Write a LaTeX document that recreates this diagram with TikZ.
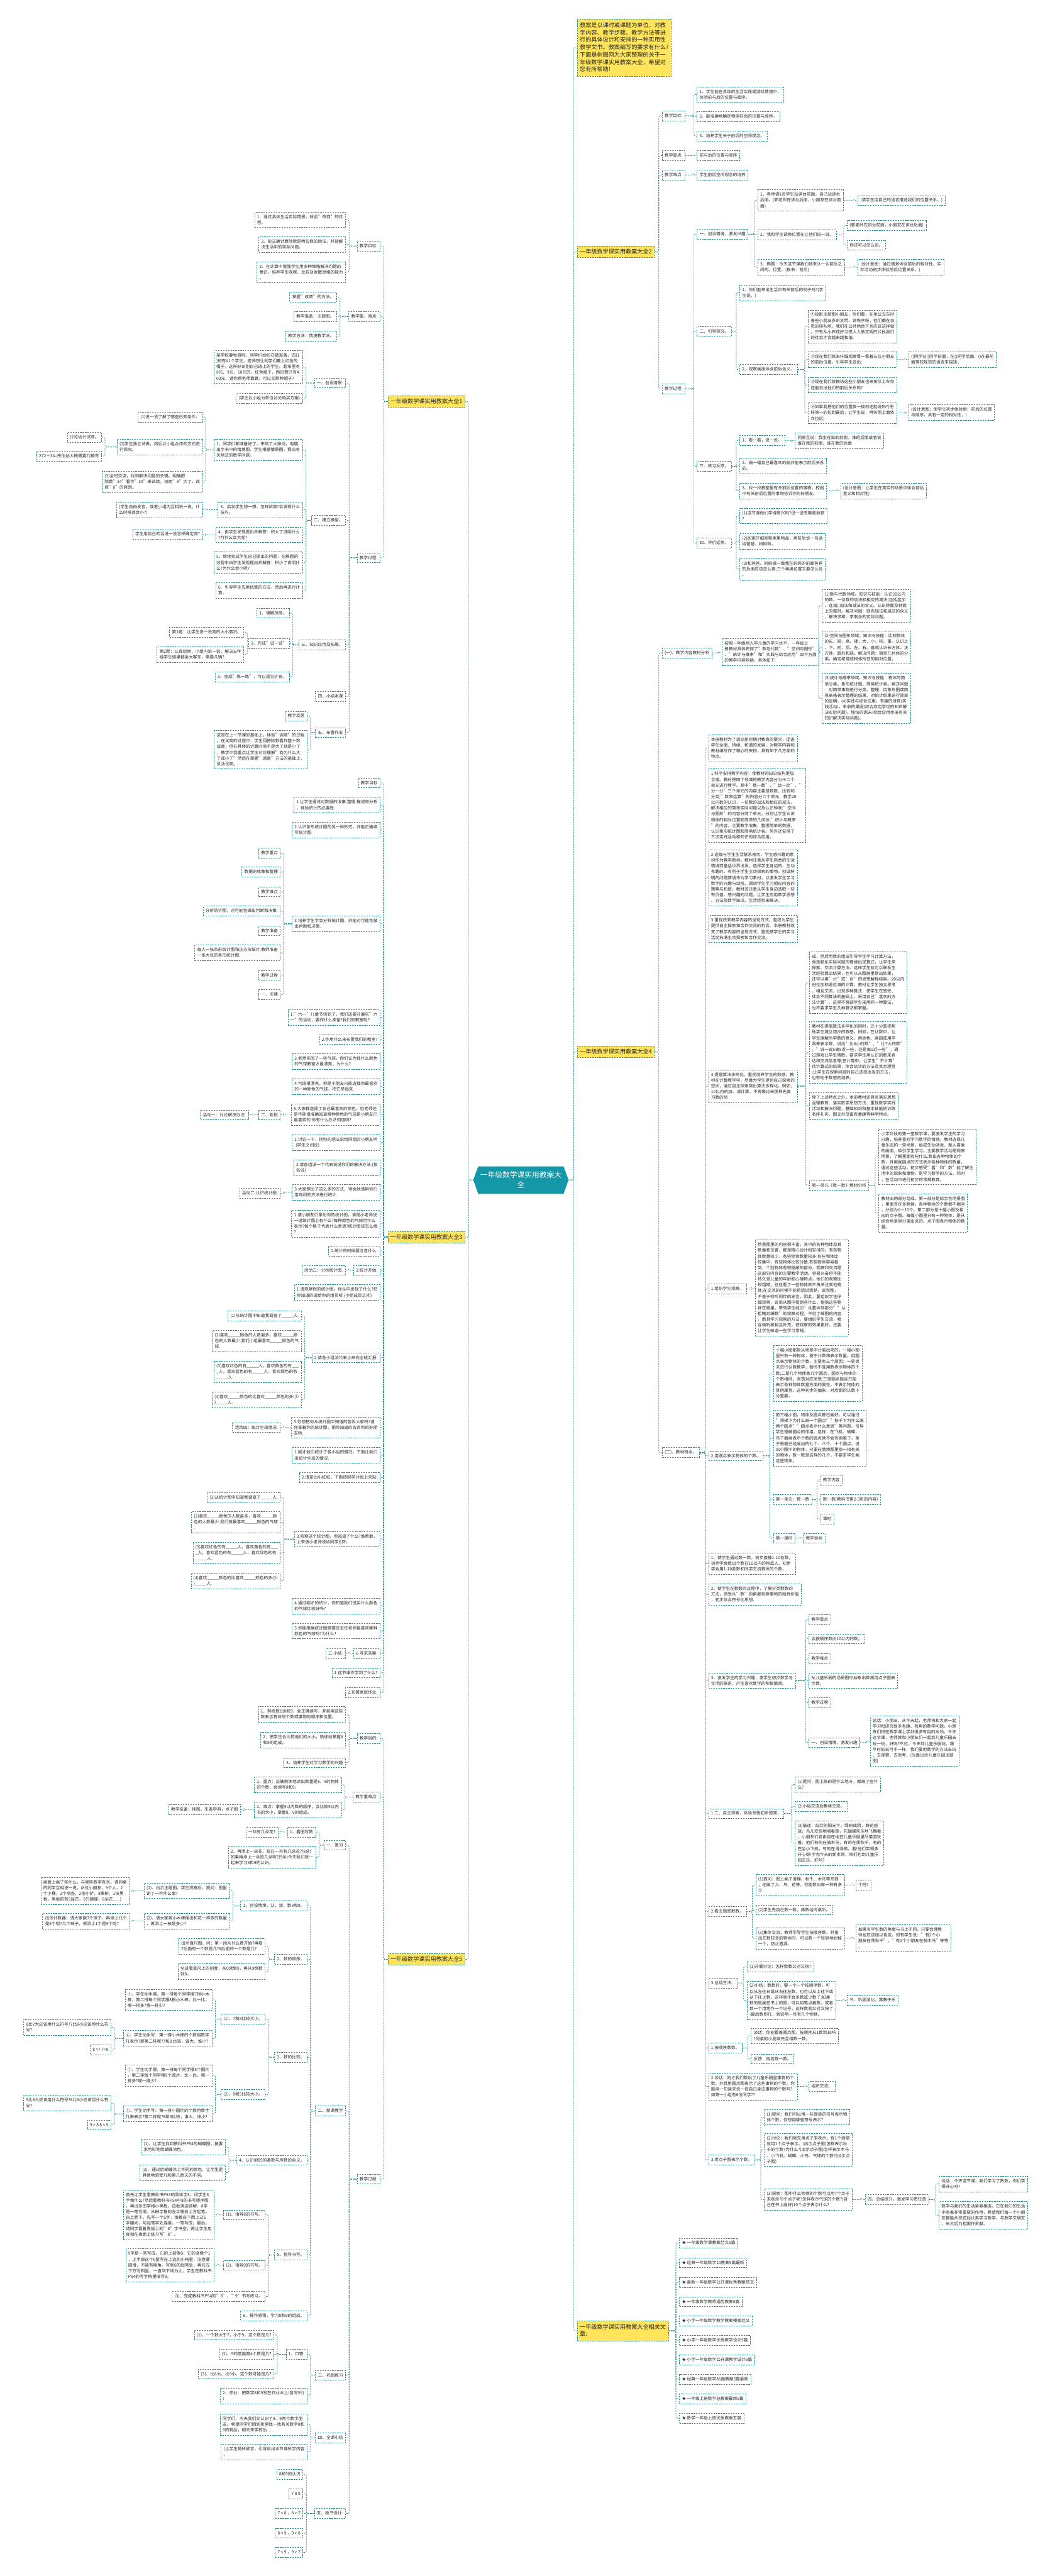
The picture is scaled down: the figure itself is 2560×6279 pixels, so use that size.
\documentclass[tikz,border=0pt]{standalone}
\usepackage{fontspec}
\setmainfont{Noto Sans CJK SC}
\usetikzlibrary{calc}
\definecolor{tealc}{HTML}{2B8C8F}
\definecolor{rootc}{HTML}{1497A6}
\definecolor{yelc}{HTML}{FFE45C}
\newcommand\st{\vrule width0pt height9.5pt depth2.5pt}
\newcommand\yst{\vrule width0pt height12pt depth3.5pt}
\newcommand\blk{\_\_\_\_\_}
\tikzset{
 bx/.style={draw=tealc, line width=1.1pt, dash pattern=on 3.5pt off 2.5pt, fill=white, font=\fontsize{10.2}{14}\selectfont, align=left, inner xsep=6pt, inner ysep=6pt, text=black!85},
 yb/.style={bx, fill=yelc, font=\fontsize{14}{18}\selectfont, inner ysep=6.5pt},
 con/.style={draw=tealc, line width=1.1pt, dash pattern=on 3.5pt off 2.5pt, rounded corners=3pt}
}
\newcommand\NL[4]{\node[bx,anchor=north east] (#1) at (#2,#3) {\st#4\st};}
\newcommand\NR[4]{\node[bx,anchor=north west] (#1) at (#2,#3) {\st#4\st};}
\newcommand\CL[2]{\foreach \cc in {#2} {\draw[con] (#1.west) -| ($(\cc.east)+(8,0)$) -- (\cc.east);}}
\newcommand\CR[2]{\foreach \cc in {#2} {\draw[con] (#1.east) -| ($(\cc.west)+(-8,0)$) -- (\cc.west);}}
\begin{document}
\begin{tikzpicture}[x=1pt,y=-1pt]
\fill[white] (0,0) rectangle (2560,6279);
\useasboundingbox (0,0) rectangle (2560,6279);
% root
\fill[rootc] (1166,2843) -- (1374,2843) -- (1386,2876) -- (1374,2910) -- (1166,2910) -- (1154,2876) -- cycle;
\node[text=white, font=\fontsize{18}{25}\selectfont, align=center, minimum width=228pt, minimum height=67pt, inner sep=0pt] (root) at (1270,2876) {一年级数学课实用教案大\\全};
% ===== 大全1 =====
\node[yb,anchor=north east] (Y1) at (1134,964) {\yst 一年级数学课实用教案大全1\yst};
\NL{a1}{927}{587}{教学目标:}
\NL{a11}{843}{516}{1、通过具体生活实际情景，体验"改商"的过\\程。}
\NL{a12}{843}{576}{2、能正确计算除数是两位数的除法，并能解\\决生活中的实际问题。}
\NL{a13}{843}{637}{3、在计算中增强学生用多种策略解决问题的\\意识，培养学生观察、比较及发散思维的能力\\。}
\NL{a2}{927}{759}{教学重、难点:}
\NL{a21}{821}{712}{掌握"改商"的方法。}
\NL{a22}{821}{759}{教学准备：主题图。}
\NL{a23}{821}{807}{教学方法：情境教学法。}
\NL{a3}{927}{1347}{教学过程:}
\NL{a31}{843}{921}{一、创设情景:}
\NL{a311}{738}{854}{某学校要秋游啦，同学们纷纷在做准备，四(1\\)班有41个学生，老师想让同学们戴上红色的\\帽子，这样好识别自己班上的学生。超市里有\\8元、9元、10元的，红色帽子，而班费只有4\\00元，请你帮老师算算，可以买那种帽子?}
\NL{a312}{738}{958}{(学生以小组为单位讨论购买方案)}
\NL{a32}{843}{1256}{二、建立模型。}
\NL{a321}{738}{1070}{1、同学们都准备好了，来到了大操场，电脑\\出示书中的情境图，学生根据情景图，提出有\\关除法的数学问题。}
\NL{a3211}{494}{1004}{(1)说一说了解了哪些已知条件。}
\NL{a3212}{494}{1070}{(2)学生独立试做，然后以小组合作的方式进\\行探究。}
\NL{a32121}{248}{1053}{讨论估计试商。}
\NL{a32122}{248}{1099}{272÷34=先估估大概需要几辆车}
\NL{a3213}{494}{1148}{(3)全班交流，找到解决问题的关键。明确把\\除数"34"看作"30"来试商，初商"9"大了，改\\商"8"的原因。}
\NL{a322}{738}{1223}{3、启发学生想一想，怎样试商?会发现什么\\技巧。}
\NL{a3221}{494}{1223}{(学生自由发言，或者小组内互相说一说。什\\么时候商会小?)}
\NL{a323}{738}{1284}{4、由学生发现提出并解答：积大了说明什么\\?为什么会大呢?}
\NL{a3231}{494}{1290}{学生用自己的话说一说怎样确定商?}
\NL{a324}{738}{1345}{5、继续完成学生自己提出的问题，在解题的\\过程中由学生发现提出并解答：积小了说明什\\么?为什么会小呢?}
\NL{a325}{738}{1420}{6、引导学生先用估算的方法，然后再进行计\\算。}
\NL{a33}{843}{1559}{三、知识应用及拓展。}
\NL{a331}{706}{1482}{1、理解改商。}
\NL{a332}{706}{1556}{2、完成"试一试"}
\NL{a3321}{595}{1529}{第1题：让学生说一说商的大小情况。}
\NL{a3322}{595}{1576}{第2题：认真观察，小组内说一说，解决五年\\级学生如果都坐大客车，需要几辆?}
\NL{a333}{706}{1637}{3、完成"练一练"，可以适当扩充。}
\NL{a34}{843}{1685}{四、小结本课}
\NL{a35}{843}{1773}{五、布置作业}
\NL{a351}{749}{1733}{教学反思}
\NL{a352}{749}{1780}{这是在上一节课的基础上，体验"调商"的过程\\。在试商的过程中，学生回把除数看作整十数\\试商，但在具体的计算时商不是大了就是小了\\，教学中我重点让学生讨论理解"商为什么大\\了或小了"然后在掌握"调商"方法的基础上，\\灵活试商。}
\CL{Y1}{a1,a2,a3}
\CL{a1}{a11,a12,a13}
\CL{a2}{a21,a22,a23}
\CL{a3}{a31,a32,a33,a34,a35}
\CL{a31}{a311,a312}
\CL{a32}{a321,a322,a323,a324,a325}
\CL{a321}{a3211,a3212,a3213}
\CL{a3212}{a32121,a32122}
\CL{a322}{a3221}
\CL{a323}{a3231}
\CL{a33}{a331,a332,a333}
\CL{a332}{a3321,a3322}
\CL{a35}{a351,a352}
% ===== 大全3 =====
\node[yb,anchor=north east] (Y3) at (1134,3001) {\yst 一年级数学课实用教案大全3\yst};
\NL{c1}{927}{1896}{教学目标}
\NL{c2}{927}{1943}{1.让学生通过对数据的收集.整理.描述和分析\\，体验统计的必要性.}
\NL{c3}{927}{2004}{2.认识条形统计图的另一种形式，并能正确填\\写统计图.}
\NL{c4}{927}{2232}{3.培养学生学会分析统计图，并能对可能性做\\出判断和决策.}
\NL{c41}{684}{2067}{教学重点}
\NL{c42}{684}{2113}{数据的收集和整理}
\NL{c43}{684}{2161}{教学难点}
\NL{c44}{684}{2208}{分析统计图，对可能性做出判断和决策.}
\NL{c45}{684}{2256}{教学准备}
\NL{c46}{684}{2303}{每人一张条形统计图和正方形纸片.教师准备\\一张大张的条形统计图.}
\NL{c47}{684}{2365}{教学过程}
\NL{c48}{684}{2412}{一、引课}
\NL{c5}{927}{2460}{1."六一"儿童节快到了，我们班要开展庆"六\\一"的活动，要作什么准备?我们的教室呢?}
\NL{c6}{927}{2521}{2.你用什么来布置我们的教室?}
\NL{c7}{927}{2568}{3.老师买回了一些气球，你们认为挂什么颜色\\的气球教室才最漂亮，为什么?}
\NL{c8}{927}{2629}{4.气球很漂亮，但是小朋友只能选择你最喜欢\\的一种颜色的气球，把它举起来.}
\NL{c9}{927}{2690}{5.大家都选择了自己最喜欢的颜色，但老师还\\是不能很准确知道哪种颜色的气球是小朋友们\\最喜欢的.你有什么办法知道吗?}
\NL{c91}{684}{2705}{二、新授}
\NL{c911}{606}{2705}{活动一：讨论解决办法.}
\NL{c10}{927}{2765}{1.讨论一下，把你的想法说给同组的小朋友听\\.(学生之间说)}
\NL{c11}{927}{2827}{2.请各组派一个代表说说你们的解决办法.(指\\名说)}
\NL{c12}{927}{2887}{3.大家想出了这么多的方法，待会就请用你们\\用询问的方法进行统计.}
\NL{c121}{684}{2896}{活动二.认识统计图.}
\NL{c13}{927}{2949}{1.请小朋友们拿出你的统计图，谁是小老师说\\一说统计图上有什么?每种颜色的气球用什么\\表示?每个格子代表什么意思?统计图该怎么填\\?}
\NL{c14}{927}{3037}{2.统计的时候要注意什么.}
\NL{c15}{927}{3084}{3.统计开始.}
\NL{c151}{843}{3084}{活动三：分析统计图.}
\NL{c16}{927}{3131}{1.请观察你的统计图，你从中发现了什么?把\\你知道的说给你的组员听.(小组成员之间)}
\NL{c17}{927}{3297}{2.请各小组派代表上来向全班汇报.}
\NL{c171}{735}{3195}{(1)从统计图中知道我调查了\blk 人.}
\NL{c172}{735}{3242}{(2)喜欢\blk 颜色的人数最多，喜欢\blk 颜\\色的人数最少.我们小组最喜欢\blk 颜色的气\\球.}
\NL{c173}{735}{3317}{(3)喜欢红色的有\blk 人，喜欢黄色的有\_\_\_\\\_人，喜欢蓝色的有\blk 人，喜欢绿色的有\\\blk 人.}
\NL{c174}{735}{3392}{(4)喜欢\blk 颜色的比喜欢\blk 颜色的多(少\\)\blk 人.}
\NL{c18}{927}{3453}{3.你想把你从统计图中知道的告诉大家吗?请\\你拿着你的统计图，把你知道的告诉你的好朋\\友听.}
\NL{c181}{684}{3467}{活动四：统计全班情况.}
\NL{c19}{927}{3528}{1.刚才我们统计了各小组的情况，下面让我们\\来统计全班的情况.}
\NL{c20}{927}{3589}{2.请拿出小红纸，下面请同学分组上来贴.}
\NL{c21}{927}{3732}{3.观察这个统计图，你知道了什么?谁勇敢，\\上来做小老师说给同学们听.}
\NL{c211}{684}{3637}{(1)从统计图中知道我调查了\blk 人.}
\NL{c212}{684}{3684}{(2)喜欢\blk 颜色的人数最多，喜欢\blk 颜\\色的人数最少.我们班最喜欢\blk 颜色的气球\\.}
\NL{c213}{684}{3759}{(3)喜欢红色的有\blk 人，喜欢黄色的有\_\_\_\\\_人，喜欢蓝色的有\blk 人，喜欢绿色的有\\\blk 人.}
\NL{c214}{684}{3834}{(4)喜欢\blk 颜色的比喜欢\blk 颜色的多(少\\)\blk 人.}
\NL{c22}{927}{3895}{4.通过刚才的统计，你知道我们班买什么颜色\\的气球比较好吗?}
\NL{c23}{927}{3956}{5.你能根据统计图猜猜班主任老师最喜欢哪种\\颜色的气球吗?为什么?}
\NL{c24}{927}{4018}{6.寻求答案.}
\NL{c241}{843}{4018}{三.小结.}
\NL{c25}{927}{4065}{1.这节课你学到了什么?}
\NL{c26}{927}{4113}{2.布置家庭作业.}
\CL{Y3}{c1,c2,c3,c4,c5,c6,c7,c8,c9,c10,c11,c12,c13,c14,c15,c16,c17,c18,c19,c20,c21,c22,c23,c24,c25,c26}
\CL{c4}{c41,c42,c43,c44,c45,c46,c47,c48}
\CL{c9}{c91}
\CL{c91}{c911}
\CL{c12}{c121}
\CL{c15}{c151}
\CL{c17}{c171,c172,c173,c174}
\CL{c18}{c181}
\CL{c21}{c211,c212,c213,c214}
\CL{c24}{c241}
% ===== 大全5 =====
\node[yb,anchor=north east] (Y5) at (1134,4761) {\yst 一年级数学课实用教案大全5\yst};
\NL{e1}{927}{4225}{教学目的:}
\NL{e11}{843}{4159}{1、熟练数出8和9，会正确读写，并能用这些\\数表示物体的个数或事物的顺序和位置。}
\NL{e12}{843}{4222}{2、使学生会比较他们的大小，熟练地掌握8\\和9的组成。}
\NL{e13}{843}{4284}{3、培养学生对学习数学的兴趣}
\NL{e2}{927}{4368}{教学重难点:}
\NL{e21}{833}{4331}{1、重点：正确熟练地读出数量是8、9的物体\\的个数，会读写8和9。}
\NL{e22}{833}{4392}{2、难点：掌握9以内数的顺序，会比较9以内\\书的大小，掌握8、9的组成。}
\NL{e221}{587}{4398}{教学准备：挂图、生备学具，点子图}
\NL{e3}{927}{5299}{教学过程:}
\NL{e31}{843}{4485}{一、复习}
\NL{e311}{770}{4453}{1、看图写数}
\NL{e3111}{678}{4453}{一共有几朵花?}
\NL{e312}{770}{4501}{2、再添上一朵花，现在一共有几朵花?(8朵)\\如果再添上一朵是几朵呢?(9朵)今天我们就一\\起来学习8和9的认识。}
\NL{e32}{843}{5133}{二、新课教学}
\NL{e321}{749}{4633}{1、创设情境，认、读、数8和9。}
\NL{e3211}{560}{4589}{(1)、出示主题图，学生观察后，提问：图里\\讲了一件什么事?}
\NL{e32111}{316}{4576}{画面上画了些什么，与哪些数字有关，请同桌\\的同学互相说一说。(8位小朋友，9个人，2\\个小桶，2个喷壶，2把小铲，8棵树，1块黑\\板，黑板前有9盆花，9只蝴蝶，8朵花......)}
\NL{e3212}{560}{4663}{(2)、请大家用小木棒摆出和花一样多的数量\\，再添上一枝是多少?}
\NL{e32121}{316}{4663}{出示计数器，请大家拨7个珠子，再添上几个\\是8个呢?几个珠子，再添上1个是9个呢?}
\NL{e322}{749}{4763}{2、数的顺序。}
\NL{e3221}{647}{4725}{出示直尺图。问：第一段从什么数开始?再看\\7后面的一个数是几?8后面的一个数是几?}
\NL{e3222}{647}{4786}{全班看直尺上的刻度，从0读到9，再从9倒数\\到0。}
\NL{e323}{749}{5002}{3、数的比较。}
\NL{e3231}{647}{4909}{(1)、7和8比较大小。}
\NL{e32311}{517}{4848}{①、学生动手摆，第一排每个同学摆7根小木\\棒，第二排每个同学摆8根小木棒，比一比，\\哪一排多?哪一排少?}
\NL{e32312}{517}{4949}{②、学生动手写：第一排小木棒的个数用数字\\几表示?那第二排呢?7和8 比较，谁大，谁小?}
\NL{e323121}{271}{4922}{8比7大应该用什么符号?7比8小应该用什么符\\号?}
\NL{e323122}{271}{4984}{8 >7 7<8}
\NL{e3232}{647}{5093}{(2)、8和9比较大小。}
\NL{e32321}{517}{5032}{①、学生动手摆，第一排每个同学摆8个圆片\\，第二排每个同学摆9个圆片，比一比，哪一\\排多?哪一排少?}
\NL{e32322}{517}{5133}{②、学生动手写：第一排小圆片的个数用数字\\几来表示?第二排呢?8和9比较，谁大，谁小?}
\NL{e323221}{271}{5107}{9比8大应该用什么符号?8比9小应该用什么符\\号?}
\NL{e323222}{271}{5167}{9 > 8 8 < 9}
\NL{e324}{749}{5253}{4、认识8和9的基数与序数的含义。}
\NL{e3241}{550}{5214}{(1)、让学生找到教科书P54的蝴蝶图，按要\\求用彩笔给蝴蝶涂色。}
\NL{e3242}{550}{5276}{(2)、通过给蝴蝶涂上不同的颜色，让学生更\\具体地感受几和第几意义的不同。}
\NL{e325}{749}{5484}{5、指导书写。}
\NL{e3251}{647}{5386}{(1)、指导8的书写。}
\NL{e32511}{523}{5337}{首先让学生看教科书P53的黑体字8，问学生8\\字像什么?然后看教科书P54中8的书写顺序图\\，再出示田字格小黑板，边板演边讲解：8字\\是一笔写成。从田字格的左半格右上方起笔，\\自上而下，先写一个S字，接着自下而上过S\\字腰间，与起笔字处连接，一笔写成。最后，\\请同学看着黑板上的"8"字书空，再让学生用\\食指在桌面上练习写"8"。}
\NL{e3252}{647}{5509}{(2)、指导9的书写。}
\NL{e32521}{523}{5481}{9字是一笔写成，它的上部像0，它的竖像个1\\，上半部这个0要写在上边的小格里，注意要\\圆滑，不能有棱角。写到0的起笔处，再往左\\下方写斜竖，一直到下线为止，学生在教科书\\P54的写字格里描写9。}
\NL{e3253}{647}{5585}{(3)、完成教科书P54的"8"、"9"书写练习。}
\NL{e326}{749}{5632}{6、操作感悟，学习8和9的组成。}
\NL{e33}{843}{5777}{三、巩固练习}
\NL{e331}{749}{5726}{1、口答:}
\NL{e3311}{668}{5679}{(1)、一个数大于7，小于9，这个数是几?}
\NL{e3312}{668}{5726}{(2)、9的前面第4个数是几?}
\NL{e3313}{668}{5774}{(3)、比6大，比9小，这个数可能是几?}
\NL{e332}{749}{5821}{2、作业：把数字8和9写在作业本上(各写5行\\)}
\NL{e34}{843}{5930}{四、全课小结}
\NL{e341}{749}{5883}{同学们，今天我们又认识了8、9两个数字朋\\友。希望同学们回到家里找一找有关数字8和\\9的物品，明天来学校后......}
\NL{e342}{749}{5957}{(让学生畅所欲言，引导说出本节课所学内容\\。}
\NL{e35}{843}{6114}{五、板书设计:}
\NL{e351}{739}{6019}{8和9的认识}
\NL{e352}{739}{6066}{7 8 9}
\NL{e353}{739}{6114}{7 < 8 ，8 > 7}
\NL{e354}{739}{6162}{8 < 9 ，9 > 8}
\NL{e355}{739}{6209}{7 < 9 ，9 > 7}
\CL{Y5}{e1,e2,e3}
\CL{e1}{e11,e12,e13}
\CL{e2}{e21,e22}
\CL{e22}{e221}
\CL{e3}{e31,e32,e33,e34,e35}
\CL{e31}{e311,e312}
\CL{e311}{e3111}
\CL{e32}{e321,e322,e323,e324,e325,e326}
\CL{e321}{e3211,e3212}
\CL{e3211}{e32111}
\CL{e3212}{e32121}
\CL{e322}{e3221,e3222}
\CL{e323}{e3231,e3232}
\CL{e3231}{e32311,e32312}
\CL{e32312}{e323121,e323122}
\CL{e3232}{e32321,e32322}
\CL{e32322}{e323221,e323222}
\CL{e324}{e3241,e3242}
\CL{e325}{e3251,e3252,e3253}
\CL{e3251}{e32511}
\CL{e3252}{e32521}
\CL{e33}{e331,e332}
\CL{e331}{e3311,e3312,e3313}
\CL{e34}{e341,e342}
\CL{e35}{e351,e352,e353,e354,e355}
% ===== note =====
\node[yb,anchor=north west,inner ysep=8pt] (note) at (1407,46) {\yst 教案是以课时或课题为单位，对教\\学内容、教学步骤、教学方法等进\\行的具体设计和安排的一种实用性\\教学文书。教案编写的要求有什么?\\下面是树图网为大家整理的关于一\\年级数学课实用教案大全，希望对\\您有所帮助!\yst};
% ===== 大全2 =====
\node[yb,anchor=north west] (Y2) at (1407,599) {\yst 一年级数学课实用教案大全2\yst};
\NR{b1}{1614}{270}{教学目标:}
\NR{b11}{1699}{211}{1、学生能在具体的生活实践或游戏情境中，\\体验前与后的位置与顺序。}
\NR{b12}{1699}{272}{2、能准确地确定物体前后的位置与顺序。}
\NR{b13}{1699}{319}{3、培养学生关于前后的空间观念。}
\NR{b2}{1614}{367}{教学重点:}
\NR{b21}{1699}{367}{前与后的位置与顺序}
\NR{b3}{1614}{414}{教学难点:}
\NR{b31}{1699}{414}{学生前后空间观念的培养}
\NR{b4}{1614}{935}{教学过程:}
\NR{b41}{1699}{558}{一、创设情境，激发兴趣}
\NR{b411}{1847}{462}{1、老师请1名学生站讲台前面，自己站讲台\\后面。(郭老师在讲台后面，小朋友在讲台前\\面)}
\NR{b4111}{2091}{476}{(请学生用自己的语言描述我们的位置关系。)}
\NR{b412}{1847}{560}{2、我和学生调换位置在让他们说一说。}
\NR{b4121}{2065}{537}{(郭老师在讲台前面，小朋友在讲台后面)}
\NR{b4122}{2065}{585}{你还可以怎么说。}
\NR{b413}{1847}{632}{3、揭题：今天这节课我们就来认一认前后之\\间的。位置。(板书：前后)}
\NR{b4131}{2091}{632}{(设计意图：通过情景体验前后的相对性，实\\际活动初步体验前后位置关系。)}
\NR{b42}{1699}{795}{二、引导探究。}
\NR{b421}{1803}{694}{1、你们能举出生活中有关前后的例子吗?(学\\生说。)}
\NR{b422}{1803}{888}{2、观察画面体会前后含义。}
\NR{b4221}{1970}{755}{①投影主题图小朋友，你们看，在坐公交车时\\着些小朋友多讲文明、讲秩序呀，他们都在自\\觉的排队呢，我们在公共场合下也应该这样做\\，只有从小养成好习惯人人做文明的公民我们\\的社会才会越来越和谐。}
\NR{b4222}{1970}{857}{②现在我们就来仔细观察看一看着五位小朋友\\的前后位置，引导学生说出：}
\NR{b42221}{2215}{857}{()同学在()同学前面，在()同学后面，()在最前\\面等较规范的语言来描述。}
\NR{b4223}{1970}{919}{③现在我们就模仿这些小朋友也来排队上车你\\还能说出他们的前后关系吗?}
\NR{b4224}{1970}{980}{④如果我把他们的位置换一换你还能说吗?(把\\排第一的拉到最后，让学生说，再仿照上面依\\次拉后)}
\NR{b42241}{2215}{986}{(设计意图：使学生初步体验到：前后的位置\\与顺序，具有一定的相对性。)}
\NR{b43}{1699}{1124}{三、练习反馈。}
\NR{b431}{1803}{1061}{1、看一看，说一说。}
\NR{b4311}{1938}{1055}{同桌互说：我坐在谁的前面，谁的后面或者说\\谁在我的前面，谁在我的后面}
\NR{b432}{1803}{1116}{2、画一幅自己最喜欢的画并能表示前后关系\\的。}
\NR{b433}{1803}{1177}{3、找一找教室里有关前后位置的事物，校园\\中有关前后位置的事物告诉你的好朋友。}
\NR{b4331}{2049}{1177}{(设计意图：让学生在真实的场景中体会前后\\意义和相对性)}
\NR{b44}{1699}{1311}{四、评价延伸。}
\NR{b441}{1803}{1238}{(1)这节课你们学得高兴吗?说一说有哪些收获\\?}
\NR{b442}{1803}{1300}{(2)回家仔细观察家里物品，用前后说一句话\\给爸爸、妈妈听。}
\NR{b443}{1803}{1361}{(3)和爸爸、妈妈做一做我在妈妈的前面爸爸\\的后面应该怎么排;三个再换位置又要怎么说\\。}
\CR{Y2}{b1,b2,b3,b4}
\CR{b1}{b11,b12,b13}
\CR{b2}{b21}
\CR{b3}{b31}
\CR{b4}{b41,b42,b43,b44}
\CR{b41}{b411,b412,b413}
\CR{b411}{b4111}
\CR{b412}{b4121,b4122}
\CR{b413}{b4131}
\CR{b42}{b421,b422}
\CR{b422}{b4221,b4222,b4223,b4224}
\CR{b4222}{b42221}
\CR{b4224}{b42241}
\CR{b43}{b431,b432,b433}
\CR{b431}{b4311}
\CR{b433}{b4331}
\CR{b44}{b441,b442,b443}
% ===== 大全4 =====
\node[yb,anchor=north west] (Y4) at (1407,2549) {\yst 一年级数学课实用教案大全4\yst};
\NR{d1}{1614}{1579}{(一)、教学内容教材分析}
\NR{d11}{1760}{1556}{按照一年级刚入学儿童的学习水平，一年级上\\册教材具体安排了"数与代数"、"空间与图形"\\、"统计与概率"和"实践与综合应用"四个方面\\的教学内容包括，具体如下:}
\NR{d111}{2004}{1436}{(1)数与代数领域。知识与技能：认识20以内\\的数。一位数的加法和相应的减法(包括连加\\、连减);加法和减法的含义。认识钟面及钟面\\上的整时。解决问题：联系加法和减法的含义\\，解决求和、求剩余的实际问题。}
\NR{d112}{2004}{1538}{(2)空间与图形领域。知识与技能：比较物体\\的长、短，高、矮，大、小，轻、重。认识上\\、下、前、后、左、右。直观认识长方体、正\\方体、圆柱和球。解决问题：简单几何体的分\\类。确定和描述物体所在的相对位置。}
\NR{d113}{2004}{1641}{(3)统计与概率领域。知识与技能：物体的简\\单分类。象形统计图，简易统计表。解决问题\\：对简单事物进行分类、整理，用象形图或简\\易表格表示整理的结果。对统计结果进行简单\\的说明。(4)实践与综合应用。有趣的拼搭(实\\践活动)。丰收的果园(综合应用学过的知识解\\决实际问题)。愉快的周末(综合应用本册有关\\知识解决实际问题)。}
\NR{d2}{1614}{3528}{(二)、教材特点。}
\NR{d21}{1727}{1790}{本册教材为了适应新时期对教育的要求，促进\\学生全面、持续、和谐的发展，对教学内容和\\教材编写作了精心的安排，具有如下几方面的\\特点。}
\NR{d22}{1727}{1874}{1.科学安排教学内容，使教材的知识结构更加\\合理。教材把四个领域的教学内容分为十二个\\单元进行教学。其中"数一数"、"比一比"、"\\分一分"三个单元的内容主要是数数、比较和\\分类;"数和运算"的内容分六个单元，教学20\\以内数的认识，一位数的加法和相应的减法，\\解决相应的简单实际问题以及认识钟表;"空间\\与图形"的内容分两个单元，分别让学生认识\\物体的相对位置和简单的几何体;"统计与概率\\"的内容，主要教学收集、整理简单的数据，\\认识象形统计图和简易统计表。另外还安排了\\三次实践活动和知识的综合应用。}
\NR{d23}{1727}{2071}{2.选取与学生生活联系密切、学生感兴趣的素\\材作为教学题材。教材注意从学生熟悉的生活\\情境或童话世界出发，选择学生身边的、生动\\有趣的、有利于学生主动探索的事物，创设鲜\\明的问题情境作为学习素材，以激发学生学习\\数学的兴趣与动机，调动学生学习相应内容的\\策略与机智。教材还注意从学生身边选取一些\\有价值、感兴趣的问题，让学生应用数学思想\\、方法及数学知识、生活经验来解决。}
\NR{d24}{1727}{2231}{3.重视改变教学内容的呈现方式，重视为学生\\提供自主探索和合作交流的机会。本册教材改\\变了教学内容的呈现方式，重视使学生的学习\\活动充满主动探索和合作交流。}
\NR{d25}{1727}{2607}{4.提倡算法多样化，重视培养学生的数感。教\\材在计算教学中，尽量为学生提供自己探索的\\空间，通过自主探索突出算法多样化。例如，\\10以内的加、减计算，不再像过去那样先复\\习数的组}
\NR{d251}{1973}{2319}{成，然后用数的组成引导学生学习计算方法，\\而是联系实际问题的情境出现算式，让学生来\\探索、交流计算方法。这样学生就可以联系生\\活经验算出结果，也可以从图画里数出结果，\\还可以用"分"或"合"的思想解释结果。20以内\\进位加和退位减的计算，教材让学生独立思考\\、相互交流，出现多种算法，使学生在感受、\\体会不同算法的基础上，采用自己"喜欢的方\\法计算"。这里不强调学生采用同一种算法，\\也不要求学生几种算法都掌握。}
\NR{d252}{1973}{2490}{教材在提倡算法多样化的同时，还十分重视帮\\助学生建立初步的数感。例如，在认数中，让\\学生理解所学数的意义，用涂色、画圆或用学\\具来表示数，说出"比8小的数"、"比7大的数"\\，"说一说5离8近一些，还是离1近一些"，通\\过游戏让学生猜数，要求学生用认识的数来表\\达和交流信息等;在计算中，让学生"不计算"\\估计算式的结果，体会估计的方法及其合理性\\;让学生在探索问题时自己选择适当的方法，\\也有助于数感的培养。}
\NR{d253}{1973}{2662}{除了上述特点之外，本册教材还具有落实思想\\品德教育、落实数学思想方法、重视数学实践\\活动和解决问题、基础知识和基本技能的训练\\有序扎实、图文并茂富有童趣等鲜明特点。}
\NR{d254}{1973}{2877}{第一单元《数一数》教材分析}
\NR{d2541}{2142}{2751}{小学阶段的第一堂数学课，要激发学生的学习\\兴趣，培养喜欢学习数学的情感。教材选择儿\\童乐园的一些场景，组成生动活泼、惹人喜爱\\的画面，吸引学生学习。主要教学活动是观察\\场景，了解里面有些什么;数出各种物体的个\\数，并用画圆点的方式表示各种物体的数量。\\通过这些活动，初步感受"看"和"数"能了解生\\活中的现象和事物，是学习数学的方法。同时\\，在活动中进行初步的常规教育。}
\NR{d2542}{2142}{2909}{教材由两部分组成。第一部分是综合性场景图\\，里面有许多物体，各种物体的个数都不相同\\，分别为1～10个。第二部分是十幅小图及相\\应的点子图。每幅小图里只有一种物体，是从\\综合场景里分离出来的。点子图表示物体的数\\量。}
\NR{d26}{1727}{3129}{1.组织学生观察。}
\NR{d261}{1841}{3022}{场景图里的内容很丰富，其中的各种物体及其\\数量和位置，都是精心设计和安排的。有些物\\体数量较少，有些物体数量较多;有些物体比\\较集中，有些物体比较分散;有些物体容易看\\到，个别物体有较隐蔽的部分。观察和交流是\\这部分内容的主要教学活动。容易兴奋但不能\\持久是儿童的年龄和心理特点，他们的观察比\\较粗糙，往往看了一些物体就不再关注其他物\\体;在交流的时候不能把话说清楚，说完整，\\不善于倾听同伴的发言。因此，要组织学生仔\\细观察，说说从图中看到些什么，指指这些物\\体在哪里。带领学生经历"从整体到部分""从\\粗略到细数"的观察过程，不但了解图的内容\\，而且学习观察的方法。要组织学生交流，相\\互倾听和相互补充，使观察的效果更好，还要\\让学生知道一些学习常规。}
\NR{d27}{1727}{3536}{2.用圆点表示物体的个数。}
\NR{d271}{1885}{3279}{十幅小图都是从场景中分离出来的，一幅小图\\里只有一种物体，便于计数和表示数量。用圆\\点表示物体的个数，主要有三个原因：一是尚\\未进行认数教学，暂时不宜用数表示物体的个\\数;二是几个物体画几个圆点，圆点与物体的\\个数相同，渗透对应思想;三是圆点能且只能\\表示各种物体数量方面的属性，不表示物体的\\其他属性。这种初步的抽象，对后面的认数十\\分重要。}
\NR{d272}{1885}{3437}{前三幅小图，物体及圆点都已画好。可以通过\\"滑梯下为什么画一个圆点""秋千下为什么画\\两个圆点""圆点表示什么意思"等问题，引导\\学生理解圆点的作用。这样，在飞机、蝴蝶、\\鸟下面画表示个数的圆点就不会有困难了。至\\于根据已经画出的七个、八个、十个圆点，说\\出小图中的物体，只要在情境图里指一指有关\\的物体，数一数是这样的几个，不要求学生画\\这些物体。}
\NR{d273}{1885}{3643}{第一单元：数一数}
\NR{d2731}{2000}{3595}{教学内容}
\NR{d2732}{2000}{3643}{数一数(教科书第2-3页的内容)}
\NR{d2733}{2000}{3690}{课时}
\NR{d274}{1885}{3737}{第一课时}
\NR{d2741}{1958}{3737}{教学目标}
\NR{d28}{1727}{3785}{1、使学生通过数一数，初步接触1-10各数，\\初步学会数出个数在10以内的物或人，初步\\学会用1-10各数和同学交流物体的个数。}
\NR{d29}{1727}{3860}{2、使学生在数数的过程中，了解分类数数的\\方法，感受从"数"的角度观察事物的独特价值\\，初步体会符号化思想。}
\NR{d30}{1727}{4077}{3、激发学生的学习兴趣，使学生初步数学与\\生活的联系，产生喜欢数学的积极情感。}
\NR{d301}{1972}{3935}{教学重点}
\NR{d302}{1972}{3982}{会按顺序数出10以内的数。}
\NR{d303}{1972}{4030}{教学难点}
\NR{d304}{1972}{4077}{从儿童乐园的场景图中抽象出数再用点子图表\\示数。}
\NR{d305}{1972}{4138}{教学过程}
\NR{d306}{1972}{4235}{一、创设情境，激发兴趣}
\NR{d3061}{2121}{4182}{谈话：小朋友，从今天起，老师将和大家一起\\学习和研究很多有趣、有用的数学问题，小朋\\友们将在数学课上学到很多有用的本领。今天\\这节课，老师就和小朋友们一起到儿童乐园去\\玩一玩，好吗?不过，今天到儿童乐园玩，跟\\平时的玩可不一样，我们要用数学的方法去玩\\、去观察、去思考。(光盘出示儿童乐园主题\\图)}
\NR{d31}{1727}{4408}{1.二、自主探索，体验领悟初步感知。}
\NR{d311}{1938}{4330}{(1)提问：图上画的是什么地方，都画了些什\\么?}
\NR{d312}{1938}{4391}{(2)小组交流后集体交流。}
\NR{d313}{1938}{4438}{(3)描述：灿烂的阳光下，绿树成阴，鲜花怒\\放，鸟儿欢快地唱着歌，花蝴蝶欢乐地飞舞着\\，小朋友们自由自在地在儿童乐园里尽情游玩\\着，他们有的在骑木马，有的在荡秋千，有的\\在坐小飞机，有的在滑滑梯。看!他们笑得多\\开心呀!学完今天的新本领，咱们也到儿童乐\\园去玩，好吗?}
\NR{d32}{1727}{4647}{2.看主题图数数。}
\NR{d321}{1842}{4568}{(1)提问：图上画了滑梯、秋千、木马等东西\\，还画了人、鸟、花等，你能数出每一种有多\\少}
\NR{d3211}{2086}{4582}{个吗?}
\NR{d322}{1842}{4643}{(2)学生先自己数一数，再数给同桌听。}
\NR{d323}{1842}{4698}{(3)集体交流，教师引导学生按顺序数，并指\\出在数较多的物体时，可以数一个轻轻地划掉\\一个，防止遗漏。}
\NR{d3231}{2086}{4691}{如果有学生数的角度与书上不同，只要合理教\\师也应该加以肯定。如有学生说："有2个小\\朋友在荡秋千"，"有2个小朋友在骑木马"等等\\。}
\NR{d33}{1727}{4821}{3.总结方法。}
\NR{d331}{1821}{4781}{(1)开展讨论：怎样数数又对又快?}
\NR{d332}{1821}{4828}{(2)小结：数数时，要一个一个按顺序数，可\\以从左往右或从右往左数，也可以从上往下或\\从下往上数，这样就不会多数或少数了;如果\\数的是画在书上的图，可以用笔点着数，或者\\数一个用笔作一个记号，这样数就又对又快了\\!最后数到几，就说明一共有几个物体。}
\NR{d3321}{2065}{4863}{三、巩固深化，寓教于乐}
\NR{d34}{1727}{4979}{1.按顺序数数。}
\NR{d341}{1831}{4943}{谈话：你能看着圆点图，按顺序从1数到10吗\\?同桌的小朋友先互相数一数。}
\NR{d342}{1831}{5006}{反馈：指名数一数。}
\NR{d35}{1727}{5052}{2.谈话：刚才我们数出了儿童乐园里事物的个\\数。并且用圆点图表示了这些事物的个数。你\\能用一句话来说一说自己身边事物的个数吗?\\如第一小组有6位同学??}
\NR{d351}{1972}{5073}{组织交流。}
\NR{d36}{1727}{5252}{3.用点子图表示个数。}
\NR{d361}{1863}{5141}{(1)提问：我们可以用一些简单的符号表示物\\体个数，你想用哪些符号表示?}
\NR{d362}{1863}{5200}{(2)讨论：我们就先用点子来表示。有1个滑梯\\就用1个点子表示。(出示点子图)怎样表示秋\\千的个数?为什么?(出示点子图)怎样表示木马\\、小飞机、蝴蝶、小鸟、气球的个数?(出示点\\子图)}
\NR{d363}{1863}{5335}{(3)探索：图中什么物体的个数可以用7个点子\\来表示?8个点子呢?怎样表示气球的个数?(自\\己在书上画好)10个点子表示什么?}
\NR{d3631}{2109}{5349}{四、总结提升，激发学习责任感}
\NR{d36311}{2289}{5304}{谈话：今天这节课，我们学习了数数，你们学\\得开心吗?}
\NR{d36312}{2289}{5366}{数学与我们的生活紧紧相连，它在我们的生活\\中有着非常重要的作用，希望我们每一个小朋\\友都能从现在起认真学习数学，与数学交朋友\\，长大后为祖国作贡献。}
\CR{Y4}{d1,d2}
\CR{d1}{d11}
\CR{d11}{d111,d112,d113}
\CR{d2}{d21,d22,d23,d24,d25,d26,d27,d28,d29,d30,d31,d32,d33,d34,d35,d36}
\CR{d25}{d251,d252,d253,d254}
\CR{d254}{d2541,d2542}
\CR{d26}{d261}
\CR{d27}{d271,d272,d273,d274}
\CR{d273}{d2731,d2732,d2733}
\CR{d274}{d2741}
\CR{d30}{d301,d302,d303,d304,d305,d306}
\CR{d306}{d3061}
\CR{d31}{d311,d312,d313}
\CR{d32}{d321,d322,d323}
\CR{d321}{d3211}
\CR{d323}{d3231}
\CR{d33}{d331,d332}
\CR{d332}{d3321}
\CR{d34}{d341,d342}
\CR{d35}{d351}
\CR{d36}{d361,d362,d363}
\CR{d363}{d3631}
\CR{d3631}{d36311,d36312}
% ===== related =====
\node[yb,anchor=north west,inner ysep=8pt] (F) at (1407,5656) {\yst 一年级数学课实用教案大全相关文\\章:\yst};
\NR{f1}{1656}{5455}{★ 一年级数学课教案范文5篇}
\NR{f2}{1656}{5503}{★ 经典一年级数学10教案5篇最新}
\NR{f3}{1656}{5551}{★ 最新一年级数学公开课优秀教案范文}
\NR{f4}{1656}{5598}{★ 一年级数学教师通用教案5篇}
\NR{f5}{1656}{5645}{★ 小学一年级数学教学教案模板范文}
\NR{f6}{1656}{5692}{★ 小学一年级数学优秀教学设计5篇}
\NR{f7}{1656}{5740}{★ 小学一年级数学公开课教学设计5篇}
\NR{f8}{1656}{5787}{★ 经典一年级数学86面教案5篇最新}
\NR{f9}{1656}{5835}{★ 一年级上册数学总教案最新5篇}
\NR{f10}{1656}{5882}{★ 数学一年级上册优秀教案五篇}
\CR{F}{f1,f2,f3,f4,f5,f6,f7,f8,f9,f10}
% root connectors
\CL{root}{Y1,Y3,Y5}
\CR{root}{note,Y2,Y4,F}
\end{tikzpicture}
\end{document}
